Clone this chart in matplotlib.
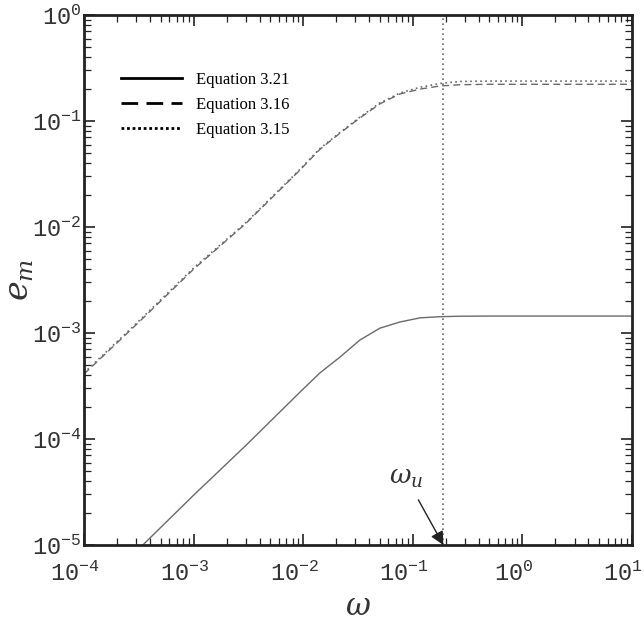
import matplotlib.pyplot as plt
import numpy as np
from matplotlib.lines import Line2D
from matplotlib.ticker import FixedLocator, LogLocator, NullFormatter
from matplotlib.transforms import ScaledTranslation

plt.rcParams['mathtext.fontset'] = 'custom'
plt.rcParams['mathtext.rm'] = 'Liberation Mono'
plt.rcParams['mathtext.it'] = 'DejaVu Serif:italic'

# values
omega = [1e-4, 3e-4, 1e-3, 3e-3, 0.00935, 0.0142, 0.0217, 0.033, 0.05, 0.0764, 0.1164,
         0.177, 0.27, 0.5, 1.0, 3.0, 10.0]
eq_315 = [4.2e-4, 1.23e-3, 4.1e-3, 1.1e-2, 3.5e-2, 5.5e-2, 7.8e-2, 0.109, 0.148, 0.184, 0.208,
          0.226, 0.236, 0.238, 0.238, 0.238, 0.238]
eq_316 = [4.1e-4, 1.2e-3, 4.0e-3, 1.08e-2, 3.45e-2, 5.4e-2, 7.7e-2, 0.107, 0.145, 0.18, 0.2,
          0.214, 0.22, 0.222, 0.222, 0.222, 0.222]
eq_321 = [3.4e-6, 8.7e-6, 2.95e-5, 8.7e-5, 2.77e-4, 4.2e-4, 5.94e-4, 8.6e-4, 1.11e-3, 1.27e-3,
          1.39e-3, 1.425e-3, 1.44e-3, 1.445e-3, 1.445e-3, 1.445e-3, 1.445e-3]
omega_u = 0.19

legend_labels = ['Equation 3.21', 'Equation 3.16', 'Equation 3.15']
x_ticks = [1e-4, 1e-3, 1e-2, 1e-1, 1e0, 1e1]
y_ticks = [1e-5, 1e-4, 1e-3, 1e-2, 1e-1, 1e0]

fig = plt.figure(figsize=(6.44, 6.32), dpi=100)
ax = fig.add_axes([84 / 644, 1 - 545 / 632, 548 / 644, 530 / 632])

ax.plot(omega, eq_321, color='#6a6a6a', lw=1.0)
ax.plot(omega, eq_316, color='#6a6a6a', lw=1.0, dashes=(5, 3))
ax.plot(omega, eq_315, color='#6a6a6a', lw=1.2, ls=(0, (1, 2)))
ax.axvline(omega_u, color='#6a6a6a', lw=1.2, ls=(0, (1, 2)))

ax.set_xscale('log')
ax.set_yscale('log')
ax.set_xlim(1e-4, 1e1)
ax.set_ylim(1e-5, 1e0)

ax.xaxis.set_major_locator(FixedLocator(x_ticks))
ax.yaxis.set_major_locator(FixedLocator(y_ticks))
ax.xaxis.set_minor_locator(LogLocator(base=10, subs=np.arange(2, 10)))
ax.yaxis.set_minor_locator(LogLocator(base=10, subs=np.arange(2, 10)))
ax.xaxis.set_minor_formatter(NullFormatter())
ax.yaxis.set_minor_formatter(NullFormatter())
ax.set_xticklabels([r'$\mathrm{10^{%d}}$' % int(np.log10(t)) for t in x_ticks])
ax.set_yticklabels([r'$\mathrm{10^{%d}}$' % int(np.log10(t)) for t in y_ticks])

ax.tick_params(which='both', direction='in', top=True, right=True, colors='#222222')
ax.tick_params(which='major', length=8, width=1.2, labelsize=17, labelcolor='#333333')
ax.tick_params(axis='x', which='major', pad=12)
ax.tick_params(axis='y', which='major', pad=2)
ax.tick_params(which='minor', length=5, width=0.9)
for s in ax.spines.values():
    s.set_linewidth(2)
    s.set_color('#222222')

# scanned labels sit a little left of their ticks
shift = ScaledTranslation(-9 / 100, 0, fig.dpi_scale_trans)
for lab in ax.get_xticklabels():
    lab.set_transform(lab.get_transform() + shift)

ax.set_ylabel(r'$e_m$', fontsize=24, color='#333333')
ax.yaxis.set_label_coords(-0.088, 0.5)
ax.set_xlabel(r'$\omega$', fontsize=22, color='#333333', labelpad=4)

ax.annotate(r'$\omega_u$', xy=(omega_u, 1e-5), xytext=(0.086, 4.4e-5),
            fontsize=19, color='#333333', ha='center', va='center',
            arrowprops=dict(arrowstyle='-|>', color='#222222', lw=1.0,
                            mutation_scale=20, shrinkA=6, shrinkB=0))

handles = [Line2D([], [], color='black', lw=2),
           Line2D([], [], color='black', lw=2, dashes=(6, 3)),
           Line2D([], [], color='black', lw=2, ls=(0, (1, 1)))]
ax.legend(handles, legend_labels, loc='upper left', bbox_to_anchor=(30 / 548, 1 - 50 / 530),
          frameon=False, prop={'family': 'Liberation Serif', 'size': 12},
          handlelength=3.7, handletextpad=0.8, labelspacing=0.55, borderaxespad=0)

fig.savefig('out.png', dpi=100)
